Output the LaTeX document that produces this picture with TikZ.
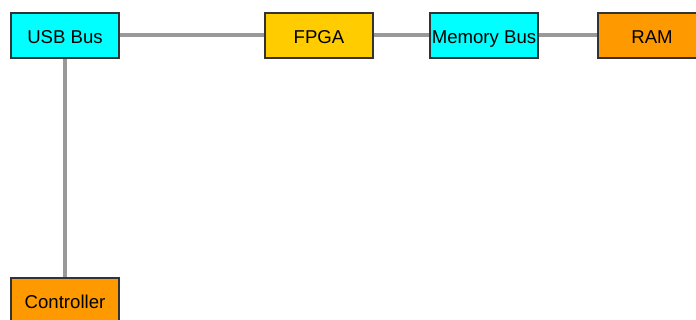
\documentclass[tikz,border=0pt]{standalone}
\usepackage{fontspec}
\setmainfont{Liberation Sans}
\definecolor{busblue}{HTML}{00FFFF}
\definecolor{fpgagold}{HTML}{FFCC00}
\definecolor{memorange}{HTML}{FF9900}
\definecolor{wiregray}{HTML}{999999}
\definecolor{edgegray}{HTML}{333333}
\tikzset{
  unit/.style={draw=edgegray, line width=1.2pt, minimum width=108pt, minimum height=45pt,
    inner sep=0pt, text height=15.6pt, text depth=0pt, font=\fontsize{18.6}{20}\selectfont},
  bus/.style={unit, fill=busblue},
  chip/.style={unit, fill=fpgagold},
  store/.style={unit, fill=memorange},
  wire/.style={draw=wiregray, line width=4pt}
}
\begin{document}
\begin{tikzpicture}[x=1pt, y=-1pt]
  \useasboundingbox (0,0) rectangle (696,320);
  % top row: bus, chip, bus, memory
  \node[bus]   (usb)  at (65,35.5)   {USB Bus};
  \node[chip]  (fpga) at (319,35.5)  {FPGA};
  \node[bus]   (mem)  at (484,35.5)  {Memory Bus};
  \node[store] (ram)  at (652,35.5)  {RAM};
  % controller below the USB bus
  \node[store] (ctrl) at (65,300.5)  {Controller};
  \draw[wire] (usb) -- (fpga);
  \draw[wire] (fpga) -- (mem);
  \draw[wire] (mem) -- (ram);
  \draw[wire] (usb) -- (ctrl);
\end{tikzpicture}
\end{document}
